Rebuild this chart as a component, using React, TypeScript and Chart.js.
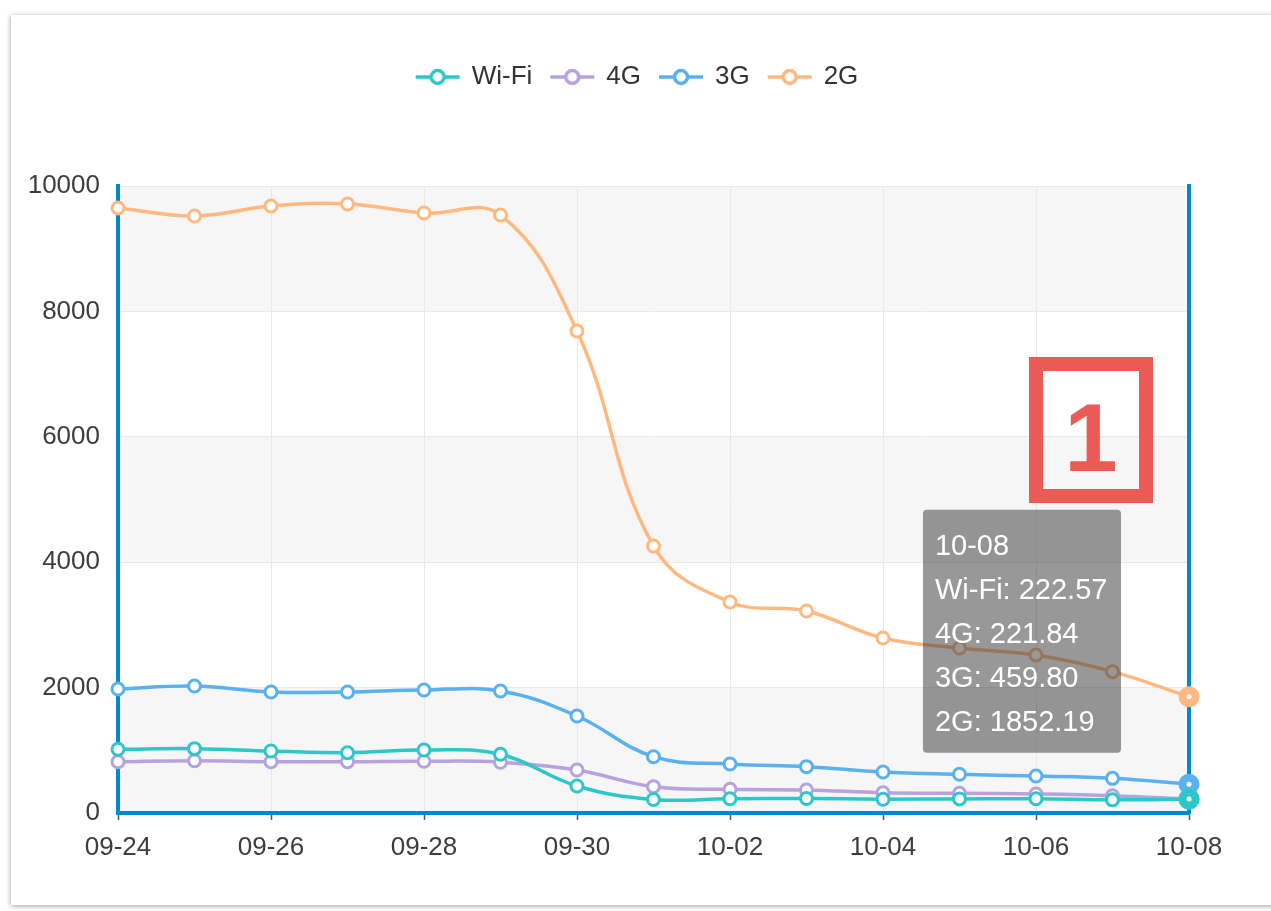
import React, { useEffect, useRef } from 'react';
import { Chart, registerables, Tooltip } from 'chart.js';

Chart.register(...registerables);

const categories = ['09-24', '09-25', '09-26', '09-27', '09-28', '09-29', '09-30', '10-01', '10-02', '10-03', '10-04', '10-05', '10-06', '10-07', '10-08'];
const seriesNames = ['Wi-Fi', '4G', '3G', '2G'];
const seriesColors = ['#2ec7c9', '#b6a2de', '#5ab1ef', '#ffb980'];
const wifiValues = [1016, 1026, 989, 962, 1005, 936, 431, 215, 228, 232, 220, 225, 228, 210, 222.57];
const g4Values = [818, 834, 818, 818, 826, 810, 686, 420, 378, 367, 324, 314, 303, 276, 221.84];
const g3Values = [1978, 2025, 1930, 1930, 1962, 1946, 1547, 898, 781, 739, 654, 617, 590, 553, 459.8];
const g2Values = [9649, 9522, 9681, 9713, 9569, 9537, 7687, 4258, 3365, 3222, 2791, 2632, 2520, 2254, 1852.19];
const yTicks = [0, 2000, 4000, 6000, 8000, 10000];
const annotationLabel = '1';

const FONT = "'Liberation Sans', Arial, Helvetica, sans-serif";
const AXIS_BLUE = '#008acd';
const GRID = '#e9e9e9';

(Tooltip as any).positioners.fixedSpot = function (items: any[]) {
  if (!items.length) return false;
  const ca = this.chart.chartArea;
  const el = items[items.length - 1].element;
  return { x: el.x - 68, y: ca.top + (ca.bottom - ca.top) * 0.71 };
};

function makeLegendIcon(color: string) {
  const c = document.createElement('canvas');
  c.width = 46;
  c.height = 22;
  const g = c.getContext('2d')!;
  g.strokeStyle = color;
  g.lineWidth = 3.5;
  g.beginPath();
  g.moveTo(1, 11);
  g.lineTo(45, 11);
  g.stroke();
  g.beginPath();
  g.arc(23, 11, 6.5, 0, Math.PI * 2);
  g.fillStyle = '#fff';
  g.fill();
  g.lineWidth = 3.5;
  g.stroke();
  return c;
}

const bandPlugin = {
  id: 'bands',
  beforeDraw(chart: any) {
    const { ctx, chartArea: ca, scales } = chart;
    const y = scales.y;
    ctx.save();
    for (let i = 0; i < yTicks.length - 1; i++) {
      const top = y.getPixelForValue(yTicks[i + 1]);
      const bottom = y.getPixelForValue(yTicks[i]);
      ctx.fillStyle = i % 2 === 0 ? '#f6f6f6' : '#ffffff';
      ctx.fillRect(ca.left, top, ca.right - ca.left, bottom - top);
    }
    ctx.restore();
  },
};

const legendSpacer = {
  id: 'legendSpacer',
  afterInit(chart: any) {
    const lg = chart.legend;
    if (lg && !lg._patched) {
      const orig = lg.fit;
      lg.fit = function () {
        orig.call(this);
        this.height += 86;
      };
      lg._patched = true;
    }
  },
  afterLayout(chart: any) {
    const lg = chart.legend;
    if (lg) {
      // centre the legend row on the reference's legend centre
      const shift = 76;
      lg.left += shift;
      lg.width = lg.right - lg.left;
    }
  },
};

export default function App() {
  const canvasRef = useRef<HTMLCanvasElement | null>(null);

  useEffect(() => {
    if (!canvasRef.current) return;
    const values = [wifiValues, g4Values, g3Values, g2Values];
    const icons = seriesColors.map((c) => makeLegendIcon(c));
    const datasets = seriesNames.map((name, i) => ({
      label: name,
      data: values[i],
      borderColor: seriesColors[i],
      backgroundColor: seriesColors[i],
      borderWidth: 3.5,
      pointRadius: 6,
      pointBorderWidth: 3,
      pointBackgroundColor: '#fff',
      pointBorderColor: seriesColors[i],
      pointHoverRadius: 6.5,
      pointHoverBorderWidth: 8,
      pointHoverBackgroundColor: '#fff',
      pointHoverBorderColor: seriesColors[i],
      tension: 0.4,
      fill: false,
      clip: false as any,
    }));

    const chart = new Chart(canvasRef.current, {
      type: 'line',
      data: { labels: categories, datasets },
      options: {
        responsive: false,
        animation: false,
        events: [],
        layout: { padding: { left: 10, right: 82, top: 45, bottom: 38 } },
        font: { family: FONT },
        plugins: {
          legend: {
            position: 'top',
            labels: {
              usePointStyle: true,
              pointStyleWidth: 42,
              padding: 19,
              color: '#333',
              font: { family: FONT, size: 26 },
              generateLabels: (ch: any) => {
                const items = (Chart.defaults.plugins.legend.labels as any).generateLabels(ch);
                return items.map((it: any, i: number) => ({ ...it, pointStyle: icons[i] }));
              },
            },
          },
          tooltip: {
            enabled: true,
            mode: 'index',
            intersect: false,
            position: 'fixedSpot' as any,
            xAlign: 'right',
            yAlign: 'center',
            caretSize: 0,
            caretPadding: 0,
            backgroundColor: 'rgba(50,50,50,0.5)',
            titleColor: '#fff',
            bodyColor: '#fff',
            titleFont: { family: FONT, size: 29, weight: 'normal' },
            bodyFont: { family: FONT, size: 29 },
            titleMarginBottom: 9.2,
            bodySpacing: 9.2,
            padding: { top: 19.5, bottom: 12.7, left: 12, right: 13.6 },
            cornerRadius: 4,
            displayColors: false,
            borderWidth: 0,
            callbacks: {
              label: (c: any) => `${c.dataset.label}: ${Number(c.parsed.y).toFixed(2)}`,
            },
          },
        },
        scales: {
          x: {
            type: 'category',
            offset: false,
            afterFit: (s: any) => {
              s.height = 60;
            },
            grid: {
              display: true,
              drawOnChartArea: true,
              drawTicks: true,
              tickLength: 7,
              lineWidth: 1,
              color: (c: any) => (c.index % 2 === 0 ? GRID : 'rgba(0,0,0,0)'),
              tickColor: (c: any) => (c.index % 2 === 0 ? '#555' : 'rgba(0,0,0,0)'),
              tickWidth: 1.5,
            },
            border: { display: true, color: AXIS_BLUE, width: 4 },
            ticks: {
              autoSkip: false,
              maxRotation: 0,
              padding: 12,
              color: '#3d3d3d',
              font: { family: FONT, size: 26 },
              callback: (_v: any, i: number) => (i % 2 === 0 ? categories[i] : ''),
            },
          },
          y: {
            type: 'linear',
            position: 'left',
            min: yTicks[0],
            max: yTicks[yTicks.length - 1],
            afterFit: (s: any) => {
              s.width = 108;
            },
            afterBuildTicks: (s: any) => {
              s.ticks = yTicks.map((v) => ({ value: v }));
            },
            grid: { color: GRID, lineWidth: 1, drawTicks: false },
            border: { display: true, color: AXIS_BLUE, width: 4 },
            ticks: {
              padding: 18,
              color: '#3d3d3d',
              font: { family: FONT, size: 26 },
              callback: (v: any) => String(v),
            },
          },
          y2: {
            type: 'linear',
            position: 'right',
            min: yTicks[0],
            max: yTicks[yTicks.length - 1],
            afterFit: (s: any) => {
              s.width = 0;
            },
            grid: { drawOnChartArea: false, drawTicks: false },
            border: { display: true, color: AXIS_BLUE, width: 4 },
            ticks: { display: false },
          },
        },
      } as any,
      plugins: [bandPlugin, legendSpacer] as any,
    });

    const idx = categories.length - 1;
    const active = seriesNames.map((_, i) => ({ datasetIndex: i, index: idx }));
    chart.setActiveElements(active);
    chart.tooltip?.setActiveElements(active, { x: 0, y: 0 });
    chart.update();

    return () => {
      chart.destroy();
    };
  }, []);

  return (
    <div
      style={{
        position: 'fixed',
        left: 0,
        top: 0,
        width: 1271,
        height: 911,
        background: '#fff',
        overflow: 'hidden',
      }}
    >
      <div
        style={{
          position: 'absolute',
          left: 11,
          top: 15,
          width: 1320,
          height: 890,
          background: '#fff',
          boxShadow: '0 1px 5px rgba(0,0,0,0.4)',
        }}
      />
      <canvas
        ref={canvasRef}
        width={1271}
        height={911}
        style={{ position: 'absolute', left: 0, top: 0, width: 1271, height: 911 }}
      />
      <div
        style={{
          position: 'absolute',
          left: 1029,
          top: 357,
          width: 124,
          height: 146,
          boxSizing: 'border-box',
          border: '14px solid #eb5a55',
        }}
      />
      <div
        style={{
          position: 'absolute',
          left: 1029,
          top: 390,
          width: 124,
          textAlign: 'center',
          fontFamily: FONT,
          fontWeight: 'bold',
          fontSize: 96,
          lineHeight: '96px',
          color: '#eb5a55',
        }}
      >
        {annotationLabel}
      </div>
    </div>
  );
}
